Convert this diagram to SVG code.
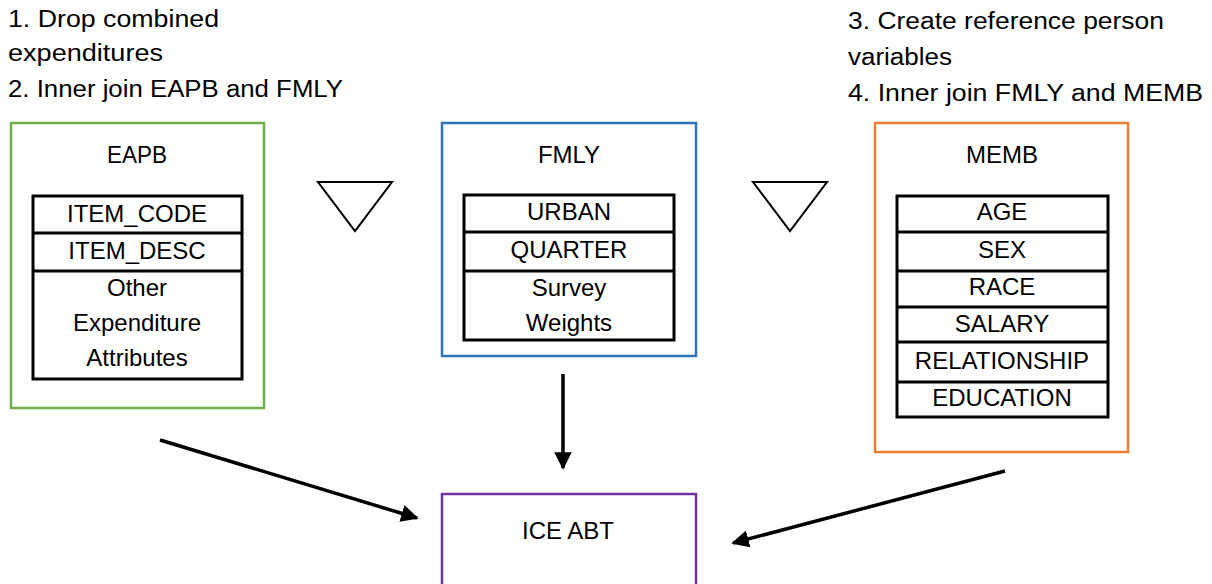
<svg xmlns="http://www.w3.org/2000/svg" width="1212" height="584" viewBox="0 0 1212 584">
<style>
text{font-family:"Liberation Sans",Arial,sans-serif;fill:#000}
.note{font-size:23px}
.title{font-size:24px;text-anchor:middle}
.cell{font-size:24px;text-anchor:middle}
.tbl{fill:#fff;stroke:#000;stroke-width:3}
.row{stroke:#000;stroke-width:3}
.outer{fill:#fff;stroke-width:2.5}
.tri{fill:none;stroke:#000;stroke-width:2}
.conn{stroke:#000;stroke-width:3.5;fill:none}
</style>
<defs>
<marker id="ah" viewBox="0 0 10 10" refX="9" refY="5" markerWidth="5" markerHeight="5" markerUnits="strokeWidth" orient="auto">
<path d="M0,0 L10,5 L0,10 Z" fill="#000"/>
</marker>
</defs>
<rect width="1212" height="584" fill="#fff"/>

<g id="notes-left">
<text class="note" x="8" y="27" textLength="211" lengthAdjust="spacingAndGlyphs">1. Drop combined</text>
<text class="note" x="8" y="61" textLength="155" lengthAdjust="spacingAndGlyphs">expenditures</text>
<text class="note" x="8" y="97" textLength="335" lengthAdjust="spacingAndGlyphs">2. Inner join EAPB and FMLY</text>
</g>
<g id="notes-right">
<text class="note" x="848" y="29" textLength="316" lengthAdjust="spacingAndGlyphs">3. Create reference person</text>
<text class="note" x="848" y="65" textLength="104" lengthAdjust="spacingAndGlyphs">variables</text>
<text class="note" x="848" y="101" textLength="355" lengthAdjust="spacingAndGlyphs">4. Inner join FMLY and MEMB</text>
</g>

<g id="EAPB">
<rect class="outer" x="11" y="123" width="253" height="285" stroke="#70AD47"/>
<text class="title" x="137" y="163" textLength="60" lengthAdjust="spacingAndGlyphs">EAPB</text>
<rect class="tbl" x="33" y="196" width="209" height="183"/>
<line class="row" x1="33" y1="233" x2="242" y2="233"/>
<line class="row" x1="33" y1="271" x2="242" y2="271"/>
<text class="cell" x="137" y="222">ITEM_CODE</text>
<text class="cell" x="137" y="259">ITEM_DESC</text>
<text class="cell" x="137" y="296">Other</text>
<text class="cell" x="137" y="331">Expenditure</text>
<text class="cell" x="137" y="366">Attributes</text>
</g>

<g id="FMLY">
<rect class="outer" x="442" y="123" width="254" height="233" stroke="#2E75B6"/>
<text class="title" x="569" y="163">FMLY</text>
<rect class="tbl" x="464" y="195" width="210" height="145"/>
<line class="row" x1="464" y1="232" x2="674" y2="232"/>
<line class="row" x1="464" y1="271" x2="674" y2="271"/>
<text class="cell" x="569" y="220">URBAN</text>
<text class="cell" x="569" y="258">QUARTER</text>
<text class="cell" x="569" y="296">Survey</text>
<text class="cell" x="569" y="331">Weights</text>
</g>

<g id="MEMB">
<rect class="outer" x="875" y="123" width="253" height="329" stroke="#ED7D31"/>
<text class="title" x="1002" y="163">MEMB</text>
<rect class="tbl" x="897" y="196" width="211" height="221"/>
<line class="row" x1="897" y1="232" x2="1108" y2="232"/>
<line class="row" x1="897" y1="271" x2="1108" y2="271"/>
<line class="row" x1="897" y1="307" x2="1108" y2="307"/>
<line class="row" x1="897" y1="342" x2="1108" y2="342"/>
<line class="row" x1="897" y1="382" x2="1108" y2="382"/>
<text class="cell" x="1002" y="220">AGE</text>
<text class="cell" x="1002" y="258">SEX</text>
<text class="cell" x="1002" y="295">RACE</text>
<text class="cell" x="1002" y="332">SALARY</text>
<text class="cell" x="1002" y="369">RELATIONSHIP</text>
<text class="cell" x="1002" y="406">EDUCATION</text>
</g>

<g id="join1">
<polygon class="tri" points="318,182 392,182 355,231"/>
</g>
<g id="join2">
<polygon class="tri" points="753,182 827,182 790,231"/>
</g>

<g id="ICE_ABT">
<rect class="outer" x="442" y="494" width="254" height="100" stroke="#7030A0"/>
<text class="title" x="568" y="539">ICE ABT</text>
</g>

<g id="connectors">
<line class="conn" x1="563" y1="374" x2="563" y2="468" marker-end="url(#ah)"/>
<line class="conn" x1="160" y1="440" x2="417" y2="518" marker-end="url(#ah)"/>
<line class="conn" x1="1005" y1="471" x2="733" y2="543" marker-end="url(#ah)"/>
</g>
</svg>
